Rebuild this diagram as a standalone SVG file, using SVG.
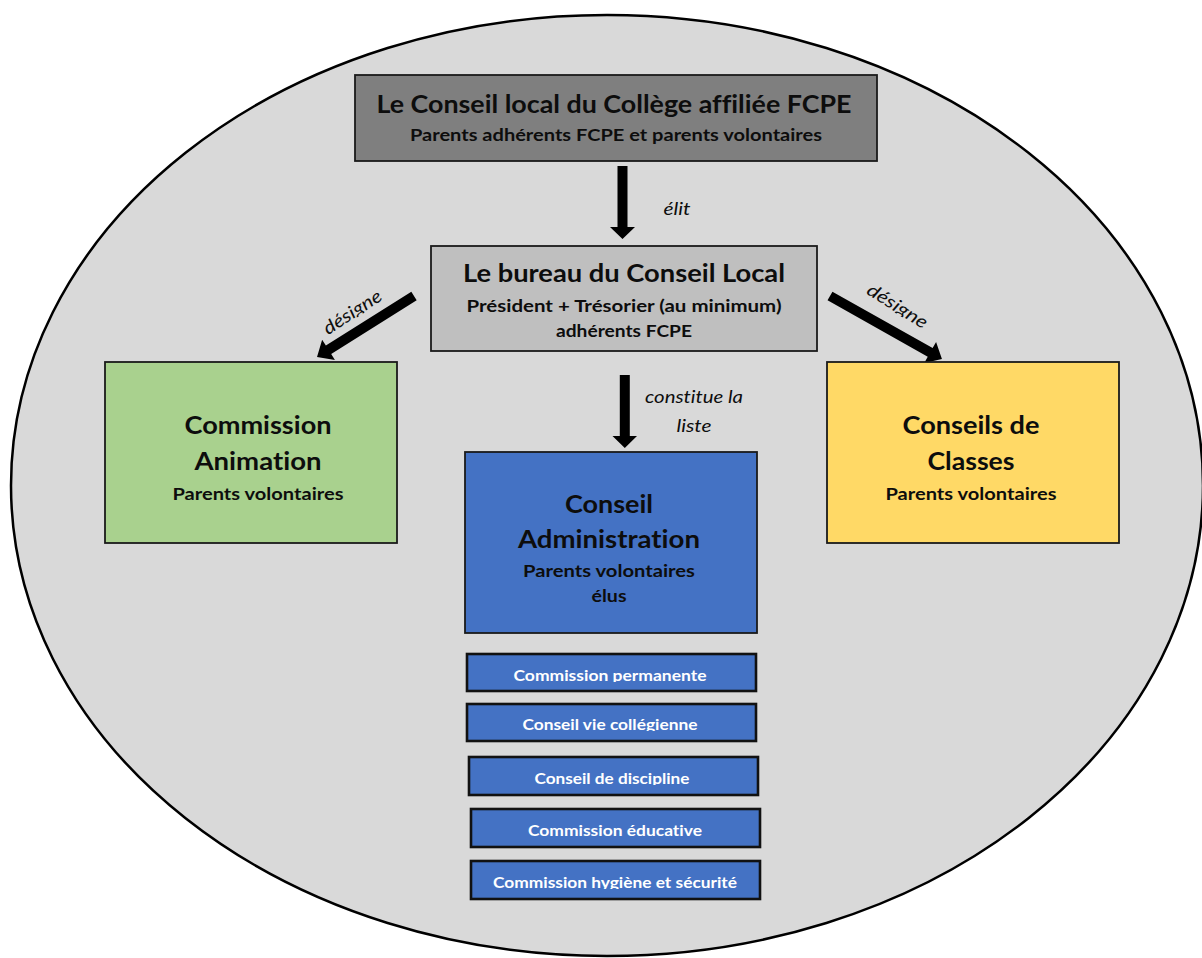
<svg xmlns="http://www.w3.org/2000/svg" width="1202" height="958" viewBox="0 0 1202 958">
<style>
text{font-variant-ligatures:none;font-feature-settings:"liga" 0,"clig" 0}
.t{font-family:Lato,"Open Sans","Liberation Sans",sans-serif;font-weight:bold;fill:#0d0d0d;text-anchor:middle}
.big{font-size:25px}
.sub{font-size:17px}
.lbl{font-family:Lato,"Open Sans","Liberation Sans",sans-serif;font-style:italic;font-size:18px;fill:#0d0d0d;text-anchor:middle}
.sm{font-family:Lato,"Open Sans","Liberation Sans",sans-serif;font-weight:bold;font-size:15px;fill:#ffffff;text-anchor:middle}
.box{stroke:#1a1a1a;stroke-width:1.8}
.smbox{fill:#4472c4;stroke:#111;stroke-width:2.6}
.arr{fill:#000}
</style>
<defs>
<clipPath id="c1"><rect x="460" y="655" width="300" height="27"/></clipPath>
<clipPath id="c2"><rect x="460" y="705" width="300" height="26"/></clipPath>
<clipPath id="c3"><rect x="460" y="758" width="300" height="27"/></clipPath>
<clipPath id="c4"><rect x="460" y="810" width="300" height="26"/></clipPath>
<clipPath id="c5"><rect x="460" y="862" width="300" height="27"/></clipPath>
<clipPath id="cd"><rect x="-50" y="-20" width="100" height="26"/></clipPath>
</defs>
<ellipse id="bg" cx="607" cy="485.5" rx="596" ry="470.5" fill="#d9d9d9" stroke="#000" stroke-width="2.5"/>

<g id="connectors">
<path class="arr" d="M617.5,166 H627.5 V227 H635 L622.5,239 L610,227 H617.5 Z"/>
<path class="arr" d="M619.8,375 H629.8 V436 H637 L624.8,448 L612.5,436 H619.8 Z"/>
<path class="arr" transform="translate(414,296) rotate(147.8)" d="M0,-5 H101 V-12 L114.6,0 L101,12 V5 H0 Z"/>
<path class="arr" transform="translate(830,296) rotate(29.4)" d="M0,-5 H115 V-12 L128.5,0 L115,12 V5 H0 Z"/>
<text class="lbl" x="677" y="215" textLength="27" lengthAdjust="spacingAndGlyphs">élit</text>
<text class="lbl" x="694" y="403" textLength="98" lengthAdjust="spacingAndGlyphs">constitue la</text>
<text class="lbl" x="694" y="432" textLength="35" lengthAdjust="spacingAndGlyphs">liste</text>
<text class="lbl" transform="translate(353,313) rotate(-33)" y="5" clip-path="url(#cd)" textLength="66" lengthAdjust="spacingAndGlyphs">désigne</text>
<text class="lbl" transform="translate(897,307) rotate(32)" y="5" clip-path="url(#cd)" textLength="68" lengthAdjust="spacingAndGlyphs">désigne</text>
</g>

<g id="conseil-local">
<rect class="box" x="355" y="75" width="522" height="86" fill="#7f7f7f"/>
<text class="t big" x="614" y="113" textLength="475" lengthAdjust="spacingAndGlyphs">Le Conseil local du Collège affiliée FCPE</text>
<text class="t sub" x="616" y="141" textLength="412" lengthAdjust="spacingAndGlyphs">Parents adhérents FCPE et parents volontaires</text>
</g>

<g id="bureau">
<rect class="box" x="431" y="246" width="386" height="105" fill="#bfbfbf"/>
<text class="t big" x="624" y="282" textLength="322" lengthAdjust="spacingAndGlyphs">Le bureau du Conseil Local</text>
<text class="t sub" x="624" y="312" textLength="315" lengthAdjust="spacingAndGlyphs">Président + Trésorier (au minimum)</text>
<text class="t sub" x="624" y="337" textLength="136" lengthAdjust="spacingAndGlyphs">adhérents FCPE</text>
</g>

<g id="commission-animation">
<rect class="box" x="105" y="362" width="292" height="181" fill="#a9d18e"/>
<text class="t big" x="258" y="434" textLength="147" lengthAdjust="spacingAndGlyphs">Commission</text>
<text class="t big" x="258" y="470" textLength="127" lengthAdjust="spacingAndGlyphs">Animation</text>
<text class="t sub" x="258" y="500" textLength="171" lengthAdjust="spacingAndGlyphs">Parents volontaires</text>
</g>

<g id="conseil-administration">
<rect class="box" x="465" y="452" width="292" height="181" fill="#4472c4"/>
<text class="t big" x="609" y="513" textLength="88" lengthAdjust="spacingAndGlyphs">Conseil</text>
<text class="t big" x="609" y="548" textLength="182" lengthAdjust="spacingAndGlyphs">Administration</text>
<text class="t sub" x="609" y="577" textLength="172" lengthAdjust="spacingAndGlyphs">Parents volontaires</text>
<text class="t sub" x="609" y="602" textLength="35" lengthAdjust="spacingAndGlyphs">élus</text>
</g>

<g id="conseils-classes">
<rect class="box" x="827" y="362" width="292" height="181" fill="#ffd966"/>
<text class="t big" x="971" y="434" textLength="137" lengthAdjust="spacingAndGlyphs">Conseils de</text>
<text class="t big" x="971" y="470" textLength="87" lengthAdjust="spacingAndGlyphs">Classes</text>
<text class="t sub" x="971" y="500" textLength="171" lengthAdjust="spacingAndGlyphs">Parents volontaires</text>
</g>

<g id="commission-permanente">
<rect class="smbox" x="467" y="654" width="289" height="37"/>
<text class="sm" x="610" y="681" clip-path="url(#c1)" textLength="193" lengthAdjust="spacingAndGlyphs">Commission permanente</text>
</g>
<g id="conseil-vie-collegienne">
<rect class="smbox" x="467" y="704" width="289" height="37"/>
<text class="sm" x="610" y="730" clip-path="url(#c2)" textLength="175" lengthAdjust="spacingAndGlyphs">Conseil vie collégienne</text>
</g>
<g id="conseil-discipline">
<rect class="smbox" x="469" y="757" width="289" height="38"/>
<text class="sm" x="612" y="784" clip-path="url(#c3)" textLength="155" lengthAdjust="spacingAndGlyphs">Conseil de discipline</text>
</g>
<g id="commission-educative">
<rect class="smbox" x="471" y="809" width="289" height="38"/>
<text class="sm" x="615" y="836" clip-path="url(#c4)" textLength="174" lengthAdjust="spacingAndGlyphs">Commission éducative</text>
</g>
<g id="commission-hygiene">
<rect class="smbox" x="471" y="861" width="289" height="38"/>
<text class="sm" x="615" y="888" clip-path="url(#c5)" textLength="244" lengthAdjust="spacingAndGlyphs">Commission hygiène et sécurité</text>
</g>
</svg>
